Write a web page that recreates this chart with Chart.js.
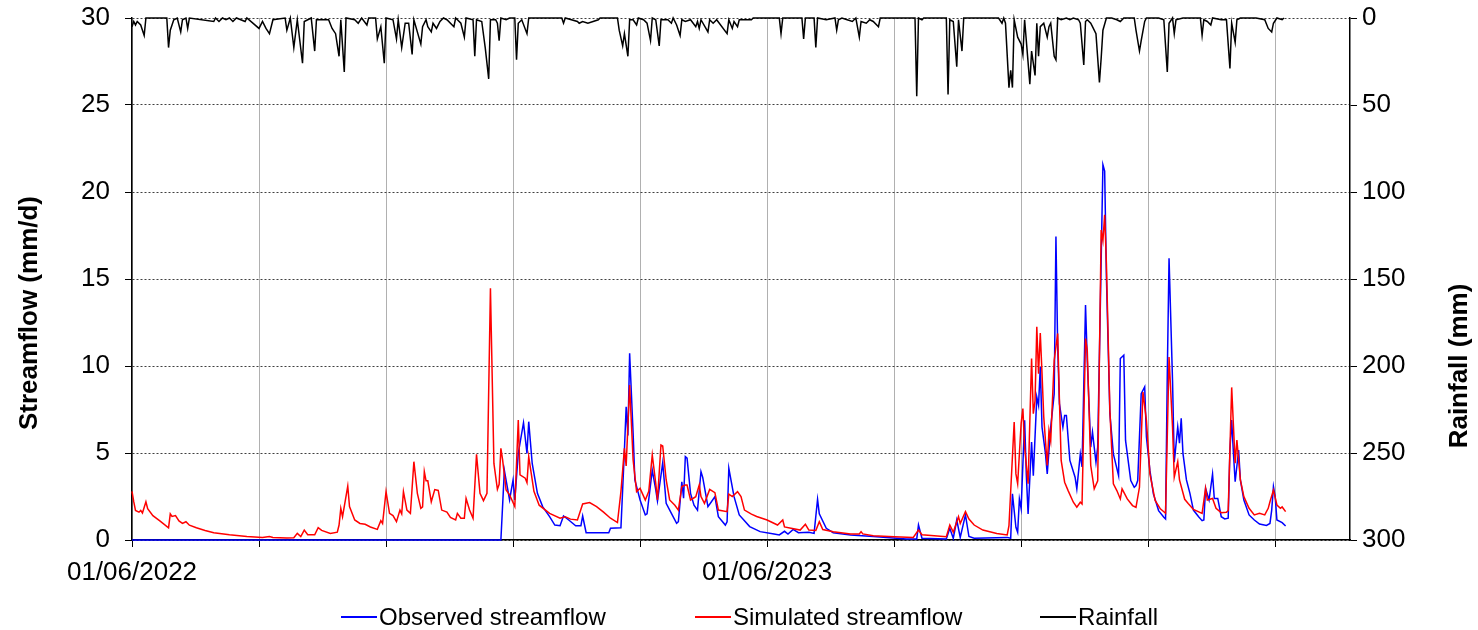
<!DOCTYPE html>
<html>
<head>
<meta charset="utf-8">
<script src="https://cdn.jsdelivr.net/npm/chart.js@4.4.0/dist/chart.umd.min.js"></script>
<style>
html,body{margin:0;padding:0;background:#fff;}
#wrap{position:relative;width:1478px;height:630px;background:#fff;}
canvas{display:block;}
#legend{position:absolute;top:603px;left:0;width:1478px;height:28px;font-family:"Liberation Sans",Arial,sans-serif;font-size:24px;color:#000;}
.item{position:absolute;top:0;line-height:28px;white-space:nowrap;}
.item i{display:inline-block;width:36px;height:0;border-top:2px solid;vertical-align:middle;margin-right:2px;position:relative;top:-2px;}
</style>
</head>
<body>
<div id="wrap">
<canvas id="c" width="1478" height="630"></canvas>
<div id="legend">
  <span class="item" style="left:341px"><i style="border-color:#0000ff"></i>Observed streamflow</span>
  <span class="item" style="left:695px"><i style="border-color:#ff0000"></i>Simulated streamflow</span>
  <span class="item" style="left:1040px"><i style="border-color:#000000"></i>Rainfall</span>
</div>
</div>
<script>
// ---- DATA (day offset from 01/06/2022, value) ----
const startDate = [2022, 6, 1];
const xGridDays = [0, 73, 146, 219, 292, 365, 438, 511, 584, 657];
const xLabelDays = [0, 365];
const flowTicks = [0, 5, 10, 15, 20, 25, 30];
const rainTicks = [0, 50, 100, 150, 200, 250, 300];

const observedFlow = [[0,0],[212,0],[214,4.0],[217,2.3],[219,3.45],[220,2.3],[222,4.98],[225,6.74],[227,4.98],[228,6.8],[230,4.4],[233,2.68],[236,1.92],[240,1.34],[243,0.86],[246,0.82],[248,1.38],[251,1.15],[255,0.82],[258,0.82],[259,1.38],[261,0.42],[274,0.42],[275,0.67],[281,0.7],[283,5.17],[284,7.66],[285,6.0],[286,10.73],[288,6.13],[289,3.45],[292,2.3],[295,1.44],[296,1.5],[299,4.02],[301,2.9],[302,2.24],[305,4.44],[307,2.11],[310,1.53],[313,0.96],[314,1.05],[316,3.35],[317,2.4],[318,4.79],[319,4.7],[321,2.68],[323,2.0],[325,1.72],[327,3.93],[328,3.6],[331,1.92],[333,2.2],[335,2.49],[337,1.34],[341,0.86],[342,1.05],[343,4.12],[346,2.49],[349,1.44],[355,0.77],[361,0.48],[369,0.34],[372,0.29],[375,0.5],[377,0.34],[380,0.61],[383,0.42],[389,0.45],[392,0.38],[394,2.34],[395,1.5],[399,0.67],[403,0.42],[413,0.29],[426,0.2],[445,0.06],[451,0.06],[452,0.86],[454,0.1],[468,0.06],[470,0.67],[472,0.1],[474,1.15],[476,0.15],[479,1.44],[481,0.2],[484,0.1],[503,0.15],[505,0.1],[506,2.65],[508,0.73],[509,0.44],[510,2.36],[511,1.8],[513,6.88],[514,3.7],[515,1.5],[517,5.63],[518,3.7],[520,8.22],[521,7.74],[522,9.95],[523,6.49],[525,4.95],[526,3.8],[528,6.49],[530,8.41],[531,17.44],[532,11.1],[533,7.84],[535,6.49],[536,7.16],[537,7.16],[539,4.57],[542,3.61],[543,2.94],[545,4.95],[546,4.2],[548,13.5],[549,10.33],[551,5.34],[552,6.2],[554,4.47],[555,5.34],[557,16.1],[558,21.57],[559,21.2],[560,15.13],[562,7.26],[564,4.95],[567,3.7],[568,10.43],[570,10.62],[571,5.72],[574,3.42],[576,3.03],[577,3.13],[578,3.42],[580,8.41],[582,8.8],[583,5.92],[585,4.0],[587,2.65],[590,1.69],[593,1.31],[594,1.21],[595,9.56],[596,16.19],[598,9.18],[599,4.47],[601,6.5],[602,5.56],[603,7.0],[604,4.98],[606,3.45],[608,2.68],[610,1.72],[613,1.34],[615,1.11],[616,1.15],[617,2.97],[619,2.3],[621,3.79],[622,2.39],[624,2.39],[626,1.34],[628,1.21],[630,1.25],[631,5.17],[632,6.9],[633,5.0],[634,3.35],[636,5.17],[637,3.45],[639,2.3],[642,1.44],[645,1.15],[648,0.92],[652,0.84],[654,0.95],[655,1.72],[656,3.07],[657,2.5],[658,1.15],[661,1.0],[663,0.8]];

const simulatedFlow = [[0,2.8],[1,2.2],[2,1.7],[4,1.6],[5,1.7],[6,1.55],[8,2.2],[9,1.8],[12,1.4],[16,1.1],[21,0.7],[22,1.5],[23,1.35],[25,1.4],[27,1.1],[29,0.95],[31,1.05],[33,0.85],[37,0.7],[42,0.55],[47,0.42],[56,0.3],[66,0.2],[75,0.15],[79,0.2],[81,0.14],[89,0.11],[93,0.13],[95,0.38],[97,0.2],[99,0.57],[101,0.3],[105,0.3],[107,0.71],[109,0.55],[114,0.38],[118,0.45],[119,0.86],[120,1.82],[121,1.34],[124,3.1],[125,1.92],[128,1.15],[131,0.95],[134,0.9],[137,0.75],[141,0.61],[143,1.11],[144,0.95],[146,2.78],[148,1.53],[150,1.4],[152,1.05],[154,1.72],[155,1.5],[156,2.78],[158,1.72],[160,1.53],[162,4.5],[164,2.68],[166,1.82],[167,1.9],[168,3.93],[169,3.4],[170,3.4],[172,2.2],[174,2.9],[176,2.85],[178,1.72],[181,1.6],[183,1.3],[186,1.15],[187,1.53],[189,1.25],[191,1.25],[192,2.39],[194,1.72],[196,1.25],[198,4.92],[200,2.68],[202,2.26],[204,2.68],[206,14.47],[208,4.4],[210,2.91],[211,3.2],[212,5.27],[213,4.6],[215,2.87],[217,2.6],[220,1.92],[222,6.9],[223,3.74],[226,3.55],[227,3.3],[228,4.79],[231,2.8],[234,2.0],[240,1.53],[246,1.25],[249,1.34],[252,1.2],[256,1.15],[259,2.07],[263,2.15],[267,1.92],[271,1.6],[275,1.25],[279,1.0],[281,2.78],[283,5.27],[284,4.25],[286,8.9],[288,4.6],[290,2.78],[292,2.97],[295,2.3],[297,2.8],[299,4.89],[301,3.26],[302,2.3],[304,5.46],[305,5.4],[307,3.45],[309,2.3],[312,2.0],[314,1.72],[316,3.07],[318,3.16],[319,3.16],[321,2.3],[324,2.49],[326,3.16],[327,2.5],[329,2.11],[332,2.91],[335,2.72],[337,1.72],[342,1.63],[343,2.64],[345,2.5],[348,2.78],[350,2.5],[352,1.72],[356,1.49],[359,1.35],[365,1.15],[371,0.86],[374,1.15],[375,0.75],[384,0.57],[387,0.9],[389,0.57],[393,0.55],[395,1.05],[397,0.6],[403,0.48],[413,0.34],[418,0.35],[419,0.48],[420,0.35],[426,0.25],[438,0.19],[449,0.15],[452,0.57],[454,0.3],[468,0.19],[470,0.86],[472,0.45],[475,1.34],[476,0.95],[479,1.63],[481,1.2],[484,0.86],[489,0.57],[497,0.38],[503,0.29],[504,0.83],[507,6.78],[508,3.8],[509,3.23],[511,6.7],[512,7.55],[513,5.34],[515,3.23],[517,10.43],[518,7.26],[519,8.0],[520,12.25],[521,9.56],[522,11.9],[523,9.56],[524,7.07],[526,4.28],[527,6.3],[528,5.7],[530,10.33],[532,11.87],[533,8.03],[534,4.57],[536,3.32],[538,2.84],[541,2.17],[543,1.88],[545,2.17],[546,2.07],[548,11.58],[549,10.9],[551,4.28],[553,2.94],[555,3.4],[557,17.82],[558,17.2],[559,18.69],[560,15.9],[562,7.45],[564,3.23],[566,2.84],[568,2.36],[569,2.94],[572,2.36],[575,1.98],[577,1.88],[579,3.03],[581,8.5],[583,6.88],[585,3.8],[588,2.27],[591,1.79],[594,1.54],[596,10.52],[598,6.49],[599,3.61],[601,4.5],[602,3.45],[605,2.34],[607,2.1],[610,1.76],[615,1.53],[617,2.97],[618,2.3],[621,2.39],[623,1.82],[626,1.57],[629,1.6],[630,1.7],[632,8.77],[634,4.41],[635,5.75],[637,3.45],[639,2.49],[642,1.82],[645,1.44],[648,1.53],[651,1.44],[653,1.82],[654,2.2],[656,2.87],[658,2.01],[660,1.82],[661,1.9],[663,1.63]];

const rainfall = [[0,5],[1,2],[2,4],[3,2],[5,4],[7,10],[8,0],[20,0],[21,17],[22,7],[23,4],[24,1],[26,0],[28,8],[29,1],[31,0],[32,6],[33,0],[47,2],[48,0],[50,2],[52,0],[54,1],[56,0],[58,2],[60,0],[65,2],[66,0],[73,6],[75,2],[77,6],[79,9],[81,1],[88,0],[89,7],[91,0],[93,17],[95,1],[98,26],[99,2],[101,1],[103,0],[105,19],[106,1],[113,1],[115,6],[117,9],[119,22],[120,1],[122,31],[123,0],[128,1],[130,3],[132,0],[135,4],[136,0],[140,0],[141,12],[143,5],[145,26],[146,0],[150,1],[152,12],[153,1],[155,17],[157,3],[159,3],[161,21],[162,1],[166,15],[167,5],[169,1],[170,5],[172,8],[173,3],[175,6],[177,2],[179,0],[181,1],[185,5],[186,0],[189,3],[191,11],[192,0],[196,1],[197,22],[198,1],[201,2],[203,17],[205,35],[206,1],[209,1],[210,3],[211,13],[212,0],[215,1],[217,0],[220,0],[221,24],[222,3],[224,1],[227,9],[228,0],[247,0],[248,3],[249,0],[256,2],[257,3],[259,2],[262,3],[265,2],[268,1],[269,0],[279,0],[280,7],[282,16],[283,9],[285,22],[286,1],[288,1],[290,4],[291,0],[294,1],[296,3],[298,13],[299,0],[301,1],[303,16],[304,1],[308,1],[310,3],[311,0],[313,4],[315,10],[316,1],[318,2],[321,1],[324,5],[325,2],[326,6],[327,1],[331,8],[332,1],[334,3],[336,1],[342,9],[343,1],[345,6],[346,2],[348,5],[349,1],[352,1],[356,1],[357,0],[372,0],[373,9],[374,0],[385,0],[386,12],[387,0],[392,0],[393,17],[394,0],[399,1],[404,0],[405,7],[406,1],[408,0],[411,1],[414,2],[416,0],[418,11],[419,2],[422,3],[424,1],[426,2],[429,5],[430,0],[450,0],[451,45],[452,0],[454,1],[455,0],[468,0],[469,44],[470,1],[472,2],[474,28],[475,1],[477,19],[478,0],[498,0],[500,3],[501,0],[502,3],[504,40],[505,30],[506,40],[507,1],[509,11],[511,15],[512,21],[513,1],[516,38],[517,19],[519,33],[520,3],[521,22],[522,5],[524,3],[526,11],[527,5],[528,3],[530,22],[531,24],[532,0],[534,1],[537,0],[539,1],[541,0],[544,1],[545,3],[547,27],[548,2],[549,1],[551,3],[552,5],[554,9],[556,37],[557,23],[558,7],[560,0],[563,0],[566,1],[568,2],[570,0],[576,0],[577,7],[579,19],[580,13],[582,2],[583,0],[590,0],[593,1],[595,31],[596,3],[598,0],[599,9],[600,1],[604,0],[614,0],[615,10],[616,1],[618,2],[620,4],[621,0],[626,1],[629,1],[631,29],[632,3],[634,14],[635,1],[637,0],[646,0],[651,1],[653,6],[655,8],[656,3],[658,0],[661,1],[662,0]];

// ---- CHART ----
const FONT = '"Liberation Sans", Arial, sans-serif';
Chart.defaults.font.family = FONT;
Chart.defaults.color = '#000';

function toPts(arr){ return arr.map(p => ({x: p[0], y: p[1]})); }
function fmtDay(d){
  const dt = new Date(Date.UTC(startDate[0], startDate[1]-1, startDate[2] + d));
  const dd = String(dt.getUTCDate()).padStart(2,'0');
  const mm = String(dt.getUTCMonth()+1).padStart(2,'0');
  return dd + '/' + mm + '/' + dt.getUTCFullYear();
}
function noPad(s){ s.paddingTop = 0; s.paddingBottom = 0; s.paddingLeft = 0; s.paddingRight = 0; }

const bgPlugin = {
  id: 'bg',
  beforeDraw(chart){ const c = chart.ctx; c.save(); c.fillStyle = '#fff'; c.fillRect(0,0,chart.width,chart.height); c.restore(); }
};
// axis titles, both reading bottom-to-top as in the reference
const axisTitles = {
  id: 'axisTitles',
  afterDraw(chart){
    const c = chart.ctx;
    const items = [
      {text: 'Streamflow (mm/d)', x: chart.scales.y.left + 30, y: 313},
      {text: 'Rainfall (mm)', x: chart.scales.y1.right - 18, y: 366}
    ];
    c.save();
    c.font = 'bold 26px ' + FONT;
    c.fillStyle = '#000';
    c.textAlign = 'center';
    c.textBaseline = 'middle';
    items.forEach(t => {
      c.save(); c.translate(t.x, t.y); c.rotate(-Math.PI/2); c.fillText(t.text, 0, 0); c.restore();
    });
    c.restore();
  }
};

new Chart(document.getElementById('c'), {
  type: 'line',
  data: {
    datasets: [
      {label: 'Observed streamflow', data: toPts(observedFlow), borderColor: '#0000ff', yAxisID: 'y', order: 2},
      {label: 'Simulated streamflow', data: toPts(simulatedFlow), borderColor: '#ff0000', yAxisID: 'y', order: 1},
      {label: 'Rainfall', data: toPts(rainfall), borderColor: '#000000', yAxisID: 'y1', order: 0}
    ]
  },
  options: {
    responsive: false,
    animation: false,
    devicePixelRatio: 1,
    layout: {padding: {top: 18, left: 0, right: 0, bottom: 0}},
    elements: {
      point: {radius: 0},
      line: {borderWidth: 1.5, tension: 0, fill: false}
    },
    datasets: {line: {clip: 4}},
    plugins: {legend: {display: false}, tooltip: {enabled: false}},
    scales: {
      x: {
        type: 'linear', min: 0, max: 700,
        afterFit(s){ s.height = 90; noPad(s); },
        afterBuildTicks(s){ s.ticks = xGridDays.map(v => ({value: v})); },
        ticks: {
          autoSkip: false, maxRotation: 0, padding: 10,
          font: {size: 26}, color: '#000',
          callback: v => xLabelDays.includes(v) ? fmtDay(v) : ''
        },
        grid: {color: '#b0b0b0', lineWidth: 1, tickColor: '#000', tickLength: 7, drawTicks: true},
        border: {display: true, color: '#000', width: 1.5}
      },
      y: {
        position: 'left', min: 0, max: 30,
        afterFit(s){ s.width = 132; noPad(s); },
        afterBuildTicks(s){ s.ticks = flowTicks.map(v => ({value: v})); },
        ticks: {font: {size: 26}, color: '#000', padding: 15},
        grid: {color: '#404040', lineWidth: 1, tickColor: '#000', tickLength: 7},
        border: {display: true, color: '#000', width: 1.5, dash: [2, 2]}
      },
      y1: {
        position: 'right', min: 0, max: 300, reverse: true,
        afterFit(s){ s.width = 128; noPad(s); },
        afterBuildTicks(s){ s.ticks = rainTicks.map(v => ({value: v})); },
        ticks: {font: {size: 26}, color: '#000', padding: 5},
        grid: {drawOnChartArea: false, color: '#000', tickColor: '#000', tickLength: 7},
        border: {display: true, color: '#000', width: 1.5}
      }
    }
  },
  plugins: [bgPlugin, axisTitles]
});
</script>
</body>
</html>
